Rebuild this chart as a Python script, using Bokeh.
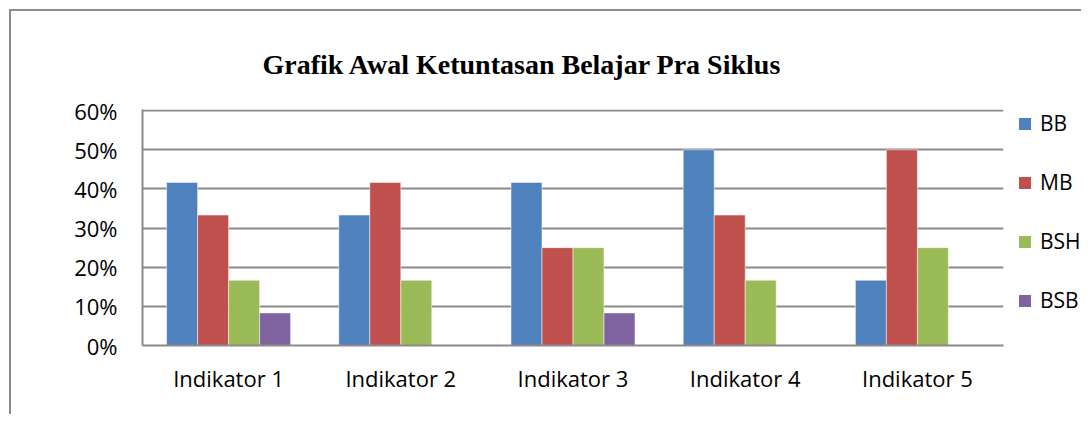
from bokeh.plotting import figure
from bokeh.models import (ColumnDataSource, NumeralTickFormatter, FixedTicker, Legend,
                          LegendItem, Label, Range1d, FactorRange)
from bokeh.layouts import column, row
from bokeh.transform import dodge
from bokeh.embed import file_html
from bokeh.resources import INLINE

categories = ["Indikator 1", "Indikator 2", "Indikator 3", "Indikator 4", "Indikator 5"]
series = ["BB", "MB", "BSH", "BSB"]
bb = [0.4167, 0.3333, 0.4167, 0.50, 0.1667]
mb = [0.3333, 0.4167, 0.25, 0.3333, 0.50]
bsh = [0.1667, 0.1667, 0.25, 0.1667, 0.25]
bsb = [0.0833, 0.0, 0.0833, 0.0, 0.0]
colors = ["#4F81BD", "#C0504D", "#9BBB59", "#8064A2"]
y_ticks = [0, 0.1, 0.2, 0.3, 0.4, 0.5, 0.6]
title_text = "Grafik Awal Ketuntasan Belajar Pra Siklus"

source = ColumnDataSource(dict(cat=categories, BB=bb, MB=mb, BSH=bsh, BSB=bsb))

# ---- title strip ----
pt = figure(width=1070, height=80, output_backend="svg", toolbar_location=None,
            x_axis_location=None, y_axis_location=None,
            x_range=Range1d(0, 1), y_range=Range1d(0, 1),
            min_border=0, min_border_left=0, min_border_right=0,
            min_border_top=0, min_border_bottom=0)
pt.outline_line_color = None
pt.grid.visible = False
pt.add_layout(Label(x=251, y=27, x_units="screen", y_units="screen", text=title_text,
                    text_font="Liberation Serif", text_font_style="bold",
                    text_font_size="28px", text_align="left", text_baseline="middle",
                    text_color="#000000"))

# ---- main chart ----
p = figure(x_range=categories, y_range=(0, 0.603), width=1006, height=323,
           output_backend="svg", toolbar_location=None,
           min_border_left=131, min_border_top=18, min_border_right=14, min_border_bottom=69)
p.outline_line_color = None
p.x_range.range_padding = 0

bw = 0.18
offsets = [-1.5 * bw, -0.5 * bw, 0.5 * bw, 1.5 * bw]
for name, col, off in zip(series, colors, offsets):
    p.vbar(x=dodge("cat", off, range=p.x_range), top=name, width=bw, source=source,
           fill_color=col, line_color="white", line_alpha=0.5, line_width=1)

p.yaxis.ticker = FixedTicker(ticks=y_ticks)
p.yaxis.formatter = NumeralTickFormatter(format="0%")
p.ygrid.ticker = FixedTicker(ticks=y_ticks)
p.ygrid.grid_line_color = "#8a8a8a"
p.ygrid.grid_line_width = 2
p.xgrid.grid_line_color = None

for ax in (p.xaxis, p.yaxis):
    ax.axis_line_color = "#8a8a8a"
    ax.axis_line_width = 2
    ax.major_tick_line_color = None
    ax.minor_tick_line_color = None
    ax.major_tick_out = 0
    ax.major_tick_in = 0
    ax.major_label_text_font = "Open Sans"
    ax.major_label_text_font_size = "22px"
    ax.major_label_text_color = "#000000"
p.yaxis.major_label_standoff = 25
p.xaxis.major_label_standoff = 17

# ---- legend strip (zero-width bars outside its own view; only the legend shows) ----
pl = figure(width=64, height=323, output_backend="svg", toolbar_location=None,
            x_axis_location=None, y_axis_location=None,
            x_range=FactorRange(*categories), y_range=Range1d(1, 2),
            min_border=0, min_border_left=0, min_border_right=0,
            min_border_top=0, min_border_bottom=0)
pl.outline_line_color = None
pl.grid.visible = False
items = []
for name, col in zip(series, colors):
    r = pl.vbar(x="cat", top=name, width=0, source=source, fill_color=col, line_color=None)
    items.append(LegendItem(label=name, renderers=[r]))
leg = Legend(items=items, location="top_left")
leg.border_line_color = None
leg.background_fill_alpha = 0
leg.padding = 0
leg.margin = 0
leg.spacing = 31
leg.label_height = 28
leg.glyph_height = 15
leg.glyph_width = 15
leg.label_standoff = 8
leg.label_text_font = "Open Sans"
leg.label_text_font_size = "21px"
leg.label_text_color = "#000000"
pl.add_layout(leg)

layout = column(pt, row(p, pl, spacing=0), spacing=0)
layout.styles = {"border-left": "2px solid #8c8c8c", "border-top": "2px solid #8c8c8c",
                 "margin-left": "9px", "margin-top": "9px"}

open("out.html", "w").write(file_html(layout, INLINE))
